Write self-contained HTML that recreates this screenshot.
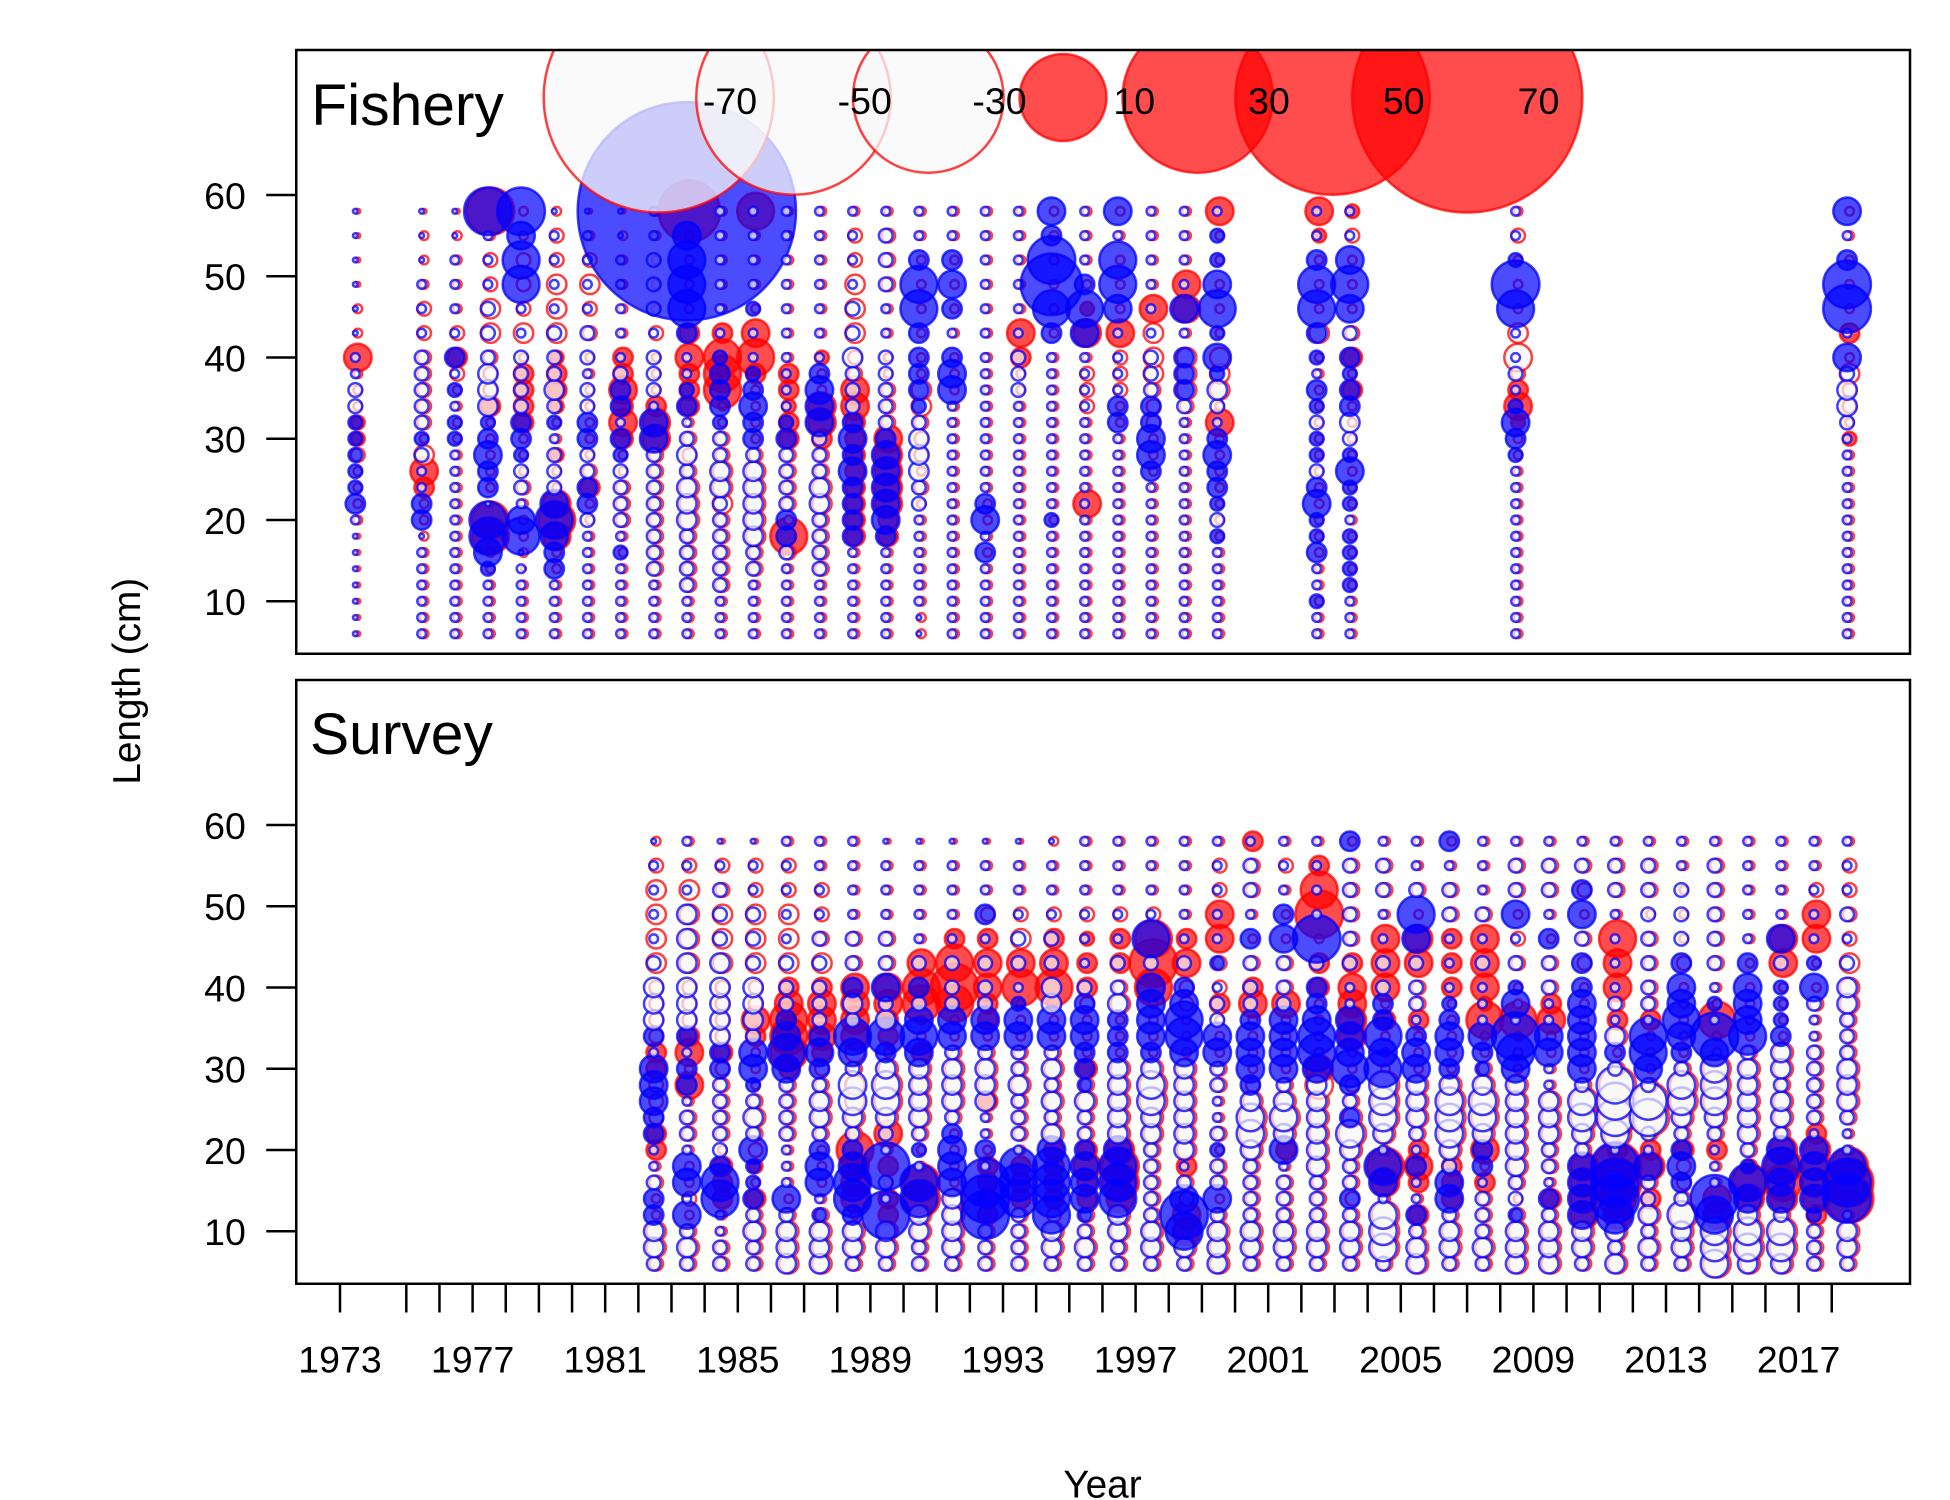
<!DOCTYPE html>
<html><head><meta charset="utf-8"><style>
html,body{margin:0;padding:0;background:#fff;}
svg{display:block;font-family:"Liberation Sans",Arial,sans-serif;}
</style></head><body>
<svg id="chart" width="1950" height="1500" viewBox="0 0 1560 1200" xmlns="http://www.w3.org/2000/svg">
<defs>
<clipPath id="clipTop"><rect x="237" y="40" width="1291" height="483"/></clipPath>
<clipPath id="clipBot"><rect x="237" y="544" width="1291" height="483"/></clipPath>
</defs>
<rect x="0" y="0" width="1560" height="1200" fill="#fff"/>
<g id="topMarks" clip-path="url(#clipTop)"></g>
<g id="botMarks" clip-path="url(#clipBot)"></g>
<g id="legend" clip-path="url(#clipTop)"></g>
<rect x="237" y="40" width="1291" height="483" fill="none" stroke="#000" stroke-width="2"/>
<rect x="237" y="544" width="1291" height="483" fill="none" stroke="#000" stroke-width="2"/>
<text x="249" y="100" font-size="47">Fishery</text>
<text x="248" y="603" font-size="47">Survey</text>
<g id="axes"></g>
<text x="882" y="1198" font-size="31" text-anchor="middle">Year</text>
<text transform="translate(112,545) rotate(-90)" font-size="31" text-anchor="middle">Length (cm)</text>
</svg>
<script>
// Length bins (cm)
const bins = [6,8,10,12,14,16,18,20,22,24,26,28,30,32,34,36,38,40,43,46,49,52,55,58];
const yTicks = [10,20,30,40,50,60];
const xTickLabels = [1973,1977,1981,1985,1989,1993,1997,2001,2005,2009,2013,2017];
const legendValues = [-70,-50,-30,10,30,50,70];
// Residual codes: lowercase = negative (open), uppercase = positive (filled), letter = magnitude
const codeMag = {a:0.03,b:0.1,c:0.25,d:0.5,e:1,f:1.8,g:3,h:5,i:10,j:30,k:63};
const fisheryYears = [1973,1975,1976,1977,1978,1979,1980,1981,1982,1983,1984,1985,1986,1987,1988,1989,1990,1991,1992,1993,1994,1995,1996,1997,1998,1999,2002,2003,2008,2018];
const fisheryRed = [
"aaaaaa abbbbc CCbbbE bbaaaa","bbbbbb bbbDEd bccccc ccbbba","bbbbbb bbbbbb bbbbcD cbbbba","bbbbbb FFabbb bbDccc ddccbG",
"bbbbab bbbcbb bDDDDb dcccbb","bbbbbb EFEbbC bbCDDC dddccb","bbbbbb bbbDcb bbbbbb ccdcba","bbbbbb bcccbb DEDEDD bbbbba",
"bbbbcc cccccc EEDbbb cbbbbb","bbbccc cdddcc cbDDDE DbbbbH","bbbccc ccdddc cbbFFF Dbbbbb","bbbbcc dddddc bbbbDF EbbbbF",
"bbbbbc Fbcccc DDCDDb bbbbbb","bbbbcc ccddcc DEEbbC bbbbbb","bbbbbb DDDDDD DDEEcc dddccb","bbbbbb DDEEEE Ecccbb bbcccb",
"bbbbbb bbbcbc ccddbb bbbbbb","bbbbbb bbbbbb bbbbbb bbbbbb","bbbbbb bbbbbb bbbbbb bbbbbb","bbbbbb bbbbbb bbbbbD Ebbbbb",
"bbbbbb bbbbbb bbbbbb bbbbbb","bbbbbb bbEbbb bbcccb ECbbbb","bbbbbb bbbbbb bbbccc Ebbbbb","bbbbbb bbbbbb bcccdd dEbbbb",
"bbbbbb bbbbbb bbcddd bEEbbb","bbbbbb bbbbbb bEbddd bbbbbE","bbbbbb bbbbbb bbbbbb dbbbCE","bbbbbb bbbbbb bbbDbD cbbbcC",
"bbbbbb bbbbbb bCEDce dbbbcb","bbbbbb bbbbbb Cbccdb Dbbbbb"];
const fisheryBlue = [
"aaaaaa abDCCC CCccbb aaaaaa","bbbbbb aDDbbc Cccccc bbbaaa","bbbbbb bbbbbb CCbCbD bbbbaa","bbbbCE FFaDDE DCdddc ccbbbG",
"bbbbba FEbccC DDcccc bbFFEG","bbbbDD EFEccc bCcdcc cbbbba","bbbbbb bcDDcc DDccbc cbbbba","bbbbbC bccccC DbDDcb bbbbaa",
"bbbbcc cccccc EEbccc bcccbb","bbbccc cdddcd cbDCbb DFFFEK","bbbccc cccddc cCDDDC bbbbbb","bbbbcc dddddc DDEDCb bCbbbb",
"bbbbbc DDcccc DCbbbb bbbbbb","bbbbcc ccddcc cEEEDb bbbbbb","bbbbbb DDDDED EDcccd ccbbbb","bbbbbb DEEEEE Dccccc bbcccb",
"aabbbb bbccdd dcCDDD DFFDbb","bbbbbb bbbbbb bbbEED bDEDbb","bbbbbD bEDbbb bbbbbb bbbbbb","bbbbbb bbbbbb bbbccc bbbbbb",
"bbbbbb bCbbbb bbbbbb DFHGDE","bbbbbb bbbbbb bbbbbb EFDbbb","bbbbbb bbbbbb bDDbbb bEFFbE","bbbbbb bbbbDE EDDccc bbbbbb",
"bbbbbb bbbbbb bbcDDD bEbbbb","bbbbbb CcCDDE DbcdCE CFECCb","bbCbbD CCEDcC CcCDbC DFFDbb","bbbCCC CbCCEC cdDDCD cEFEbb",
"bbbbbb bbbbbC DECbcb bFGCbb","bbbbbb bbbbbb bcddcE bGGDbE"];
const surveyYears = [1982,1983,1984,1985,1986,1987,1988,1989,1990,1991,1992,1993,1994,1995,1996,1997,1998,1999,2000,2001,2002,2003,2004,2005,2006,2007,2008,2009,2010,2011,2012,2013,2014,2015,2016,2017,2018];
const surveyRed = [
"cddbbc bDDccc DDcccc ddddcb","cdcbcb bbccbE bEDccc ddddcb","ccbbDD Dbcccc cDcccc dddcca","ccdcDb Cccdcb bbDEcc dddcca",
"dddcbb bbcccc DFFFED dddccb","dddcbb bbcddc cDEEED dcccbb","cddbEE EFcddd cdEEEE ccbbbb","cddDDb DbEdee dbDDEE ccbbba",
"ccddFF bbcddd dDbbFF Ebbbba","cddddb bbbcdd dcbbFG FDbbba","cccDDD DbbbDd dcbDDE EDcbba","ccccDD Dbcccd ccbbbF Edcbba",
"cddcDD DDdcdc dcbbcF EDcbbb","cdccDD EDccdc DbbbcD DCcbbb","ccddEF FEdddd dbbbdc DDcbbb","cddccc ccddee dbbbbF GFcbbb",
"cdEEcc Dddddd dbbbcc EDbbbb","dddcbc cbcbbc cbbbDc cEEccb","cddccc cdeedc bbbbED cbbccD","cddccc bDdedc bbbbEc cbbbcb",
"cddccc ddddde EbbbbD DbGFDb","cddccc cdedcc bbEEEE Dccccb","ceeebE Fbdeee bbbDbE EEbccb","ddcDbD EDcddd bbbDcc EEbcbb",
"cddcDD Ddeeed bbbbbD DDccbb","cdcccD bEdeed cbbFCE EEcbbb","dddcbc dddddd bbbFbb ccbccb","dddcDb ccdddb bbbEDc cbbccb",
"cddEEE Ecdeec bbbbbb ccbccb","dcdEFG GDefff cbdDcE EFbccb","cdcdDc EDcffc bbbDcc ccbccb","cddecc cDcdee cbbbbb cbbbbb",
"eeeEEb bDcdee ebbFbb cccccb","deedEF Ccdddd dcbbbb bbbbbb","deecEF FEcddc ddbbbb EEbbbb","cccDEE EEDccc ccbbcb bEEcbb",
"cddbGG Fbbcdd dcccdd dccccb"];
const surveyBlue = [
"cddDDc bbDDEE EbDddd cbbbba","cdcEbE EbccbD DbDddd dddbbb","ccbbFF Dccccc DDdddd dcccba","ccdcDC CEcdcC EEcddd cccbba",
"dddcEb bbcccc EFEDcc cbbbbb","dddCbE EDcddc DEDccc ccbbbb","cddDFF EDcdee cEFcdD ccbbbb","cddGbc Gbcdee dDFdcE ccbbba",
"ccddFF bCcddd dEFEcD cbbbba","cddddE EEDcdd dcEEcc cbbbba","cccGGG bDbbdd dcEEcc cbDbba","ccccFF Fbcccd ccEECb ccbbba",
"cddFFF FEdcdc dcEEdd ccbbba","cdcCEE EDccdC DDEEDc bbbbbb","ccddFF FEdddd dDDDdc cbbbbb","cddccc ccddee dDEEEE cFbbbb",
"cdFGEc bddddd dEFFED cbbbbb","dddcEc cCcbbc cEEccb Cbbbbb","cddccc cdeedD EEEDcc cDbccb","cddccc bEdedc EEEEcc cEDbbb",
"cddccc dddddd EFFEDD cGbbbb","cddcDc cdeDcD FEEEbb cccccD","ceeebE Fbdeee FEFDDc cbbccb","ddcDbb Dbcddd EEDbcc cEFcbb",
"cddcEE cdeeed DEEDCb bbccbD","cdcccb DDdeed CDEbbb cbcbbb","dddCcc dddddd EFGbEC cbEccb","dddcDb ccdddb bEEbbc cDbccb",
"cddEEE Ecdeec EEEEED DcEDcb","dcdFGG Gbefff cDdbcb bbbccb","cdcdcc Ebcffc EFFbcc cccccb","cddecD EDcdee cDEFEE Dcccbb",
"eeeFGb bbcdee eEGbCb cccccb","deedEF Ccdddd dcFEEE Dbbbbb","deecEE FEcddc ddDCCC cEbbbb","cccCEE EEbccc ccbbcE Cbbbbb",
"cddbGG Fbbcdd dcccdd cbcbbb"];

const NS = "http://www.w3.org/2000/svg";
const xScale = yr => 272 + (yr - 1973) * 26.52;
const yTop = L => 481 - (L - 10) * 6.5;
const yBot = L => 985 - (L - 10) * 6.5;
const rScale = v => 11 * Math.sqrt(Math.abs(v));
function decode(s){ const t = s.replace(/\s+/g,''); const out=[]; for(let i=0;i<bins.length;i++){ const ch=t[i]||'a'; const m=codeMag[ch.toLowerCase()]||0.03; out.push(ch===ch.toUpperCase()? m : -m);} return out; }
function bubble(g, cx, cy, v, col){
  const c = document.createElementNS(NS,'circle');
  
  
  c.setAttribute('cx', cx.toFixed(2)); c.setAttribute('cy', cy.toFixed(2));
  c.setAttribute('r', Math.max(1.3, rScale(v)).toFixed(2));
  const rgb = col==='red' ? '255,0,0' : '0,0,255';
  if (v >= 0) { c.setAttribute('fill', 'rgba('+rgb+',0.7)'); }
  else { c.setAttribute('fill', 'rgba(248,248,248,0.7)'); }
  c.setAttribute('stroke', 'rgba('+rgb+',0.75)');
  c.setAttribute('stroke-width', '2');
  g.appendChild(c);
}
function drawPanel(gid, years, red, blue, yf){
  const g = document.getElementById(gid);
  years.forEach((yr,i)=>{ const vals=decode(red[i]); vals.forEach((v,j)=>bubble(g, xScale(yr+0.5)+1, yf(bins[j]), v, 'red')); });
  years.forEach((yr,i)=>{ const vals=decode(blue[i]); vals.forEach((v,j)=>bubble(g, xScale(yr+0.5)-1, yf(bins[j]), v, 'blue')); });
}
drawPanel('topMarks', fisheryYears, fisheryRed, fisheryBlue, yTop);
drawPanel('botMarks', surveyYears, surveyRed, surveyBlue, yBot);

// legend
const lg = document.getElementById('legend');
legendValues.forEach((v,i)=>{
  const cx = 527 + i*107.8;
  const c = document.createElementNS(NS,'circle');
  
  
  c.setAttribute('cx', cx); c.setAttribute('cy', 78); c.setAttribute('r', rScale(v));
  c.setAttribute('fill', v<0 ? 'rgba(248,248,248,0.75)' : 'rgba(255,0,0,0.7)');
  c.setAttribute('stroke', 'rgba(255,0,0,0.75)'); c.setAttribute('stroke-width','2');
  lg.appendChild(c);
});
legendValues.forEach((v,i)=>{
  const t = document.createElementNS(NS,'text');
  
  
  t.setAttribute('x', 527 + i*107.8 + 57); t.setAttribute('y', 91);
  t.setAttribute('font-size','30'); t.setAttribute('text-anchor','middle');
  t.textContent = String(v);
  lg.appendChild(t);
});

// axes
const ax = document.getElementById('axes');
function line(x1,y1,x2,y2,name){ const l=document.createElementNS(NS,'line');   l.setAttribute('x1',x1);l.setAttribute('y1',y1);l.setAttribute('x2',x2);l.setAttribute('y2',y2);l.setAttribute('stroke','#000');l.setAttribute('stroke-width','2');ax.appendChild(l);}
function text(x,y,s,name,anchor){ const t=document.createElementNS(NS,'text');   t.setAttribute('x',x);t.setAttribute('y',y);t.setAttribute('font-size','30');t.setAttribute('text-anchor',anchor||'middle');t.textContent=s;ax.appendChild(t);}
[[yTop,'fishery'],[yBot,'survey']].forEach(([yf,p])=>{
  yTicks.forEach(L=>{ line(213,yf(L),237,yf(L),'y-tick'); text(180,yf(L)+11,String(L),'y-tick-label'); });
});
const tickYears=[1973]; for(let y=1975;y<=2018;y++) tickYears.push(y);
tickYears.forEach(y=>line(xScale(y),1027,xScale(y),1050,'x-tick'));
xTickLabels.forEach(y=>text(xScale(y),1098,String(y),'x-tick-label'));
</script>
</body></html>
